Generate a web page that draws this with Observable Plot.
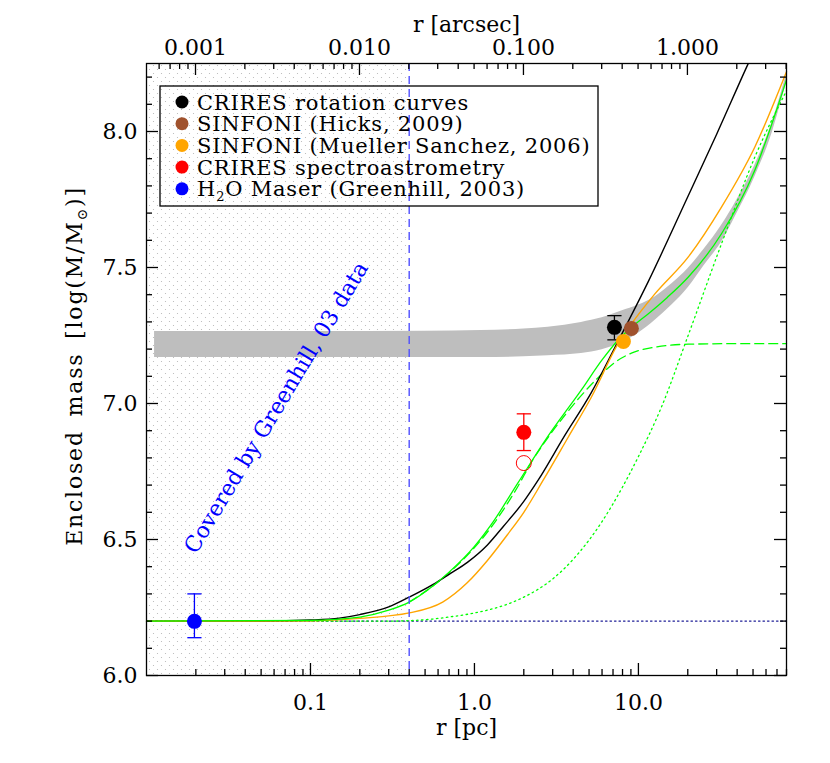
<!DOCTYPE html>
<html><head><meta charset="utf-8">
<script src="https://cdn.jsdelivr.net/npm/d3@7"></script>
<script src="https://cdn.jsdelivr.net/npm/@observablehq/plot@0.6"></script>
<style>body{margin:0;background:#fff}</style>
</head><body><div id="chart"></div>
<script>
// ---------- data ----------
const pcPerArcsec = 19.9;
const xDomain = [0.01, 80];
const yDomain = [6.0, 8.25];
const shadeLimit = 0.4; // pc, Greenhill 03 coverage

const xMajor = [0.1, 1, 10];
const xMajorLabels = ["0.1", "1.0", "10.0"];
const xMinor = [0.02,0.03,0.04,0.05,0.06,0.07,0.08,0.09,0.2,0.3,0.4,0.5,0.6,0.7,0.8,0.9,2,3,4,5,6,7,8,9,20,30,40,50,60,70,80];
const arcMajor = [0.001, 0.01, 0.1, 1];
const arcMajorLabels = ["0.001", "0.010", "0.100", "1.000"];
const arcMinor = [0.0006,0.0007,0.0008,0.0009,0.002,0.003,0.004,0.005,0.006,0.007,0.008,0.009,0.02,0.03,0.04,0.05,0.06,0.07,0.08,0.09,0.2,0.3,0.4,0.5,0.6,0.7,0.8,0.9,2,3,4];
const yMajor = [6.0, 6.5, 7.0, 7.5, 8.0];
const yMajorLabels = ["6.0", "6.5", "7.0", "7.5", "8.0"];
const yMinor = [6.1,6.2,6.3,6.4,6.6,6.7,6.8,6.9,7.1,7.2,7.3,7.4,7.6,7.7,7.8,7.9,8.1,8.2];

// grey band (total enclosed mass range)
const bandR     = [0.0112, 0.1, 0.5, 1.1, 2.0, 2.81, 4.49, 6.0, 7.9, 10, 12.6, 16, 20.1, 25, 32.1, 40, 51.2, 65, 80];
const bandUpper = [7.265, 7.265, 7.266, 7.268, 7.274, 7.28, 7.298, 7.315, 7.34, 7.362, 7.392, 7.44, 7.496, 7.565, 7.654, 7.75, 7.875, 8.03, 8.21];
const bandLower = [7.169, 7.169, 7.169, 7.169, 7.172, 7.176, 7.184, 7.198, 7.222, 7.258, 7.305, 7.362, 7.426, 7.505, 7.593, 7.70, 7.832, 7.99, 8.18];

// model curves
const blackR = [0.01, 0.05, 0.1, 0.15, 0.2, 0.3, 0.4, 0.56, 0.7, 0.91, 1.2, 1.5, 2.0, 2.44, 3.55, 5.16, 7.17, 11.5, 20, 30, 46.2, 52];
const blackM = [6.2, 6.2, 6.204, 6.211, 6.224, 6.252, 6.288, 6.335, 6.372, 6.417, 6.48, 6.548, 6.64, 6.717, 6.882, 7.04, 7.205, 7.449, 7.76, 7.99, 8.243, 8.31];

const orangeR = [0.01, 0.1, 0.2, 0.4, 0.64, 0.9, 1.2, 1.6, 2.0, 2.62, 3.73, 5.16, 7.52, 9.0, 12.6, 20.1, 32.1, 51.2, 80];
const orangeM = [6.2, 6.201, 6.21, 6.23, 6.27, 6.34, 6.423, 6.52, 6.6, 6.717, 6.876, 7.023, 7.22, 7.29, 7.403, 7.538, 7.722, 7.942, 8.22];

const greenR = [0.01, 0.1, 0.2, 0.3, 0.4, 0.56, 0.7, 1.0, 1.3, 1.85, 2.81, 4.49, 6.0, 7.69, 9.5, 11.5, 15, 20.1, 32.1, 51.2, 80];
const greenM = [6.2, 6.203, 6.215, 6.24, 6.27, 6.33, 6.38, 6.475, 6.565, 6.71, 6.88, 7.05, 7.16, 7.24, 7.29, 7.33, 7.39, 7.464, 7.624, 7.857, 8.19];

const greenDashR = [0.4, 0.56, 0.7, 1.0, 1.3, 1.84, 2.23, 2.81, 3.54, 4.49, 5.68, 7.14, 9.06, 12.6, 20.1, 40, 80];
const greenDashM = [6.27, 6.33, 6.378, 6.47, 6.555, 6.695, 6.785, 6.875, 6.955, 7.03, 7.095, 7.15, 7.185, 7.207, 7.218, 7.22, 7.22];

const greenDotR = [0.01, 0.3, 0.5, 0.7, 1.0, 1.5, 2.0, 3.0, 4.0, 5.0, 6.0, 8.0, 10, 13.8, 20.1, 32.1, 51.2, 80];
const greenDotM = [6.2, 6.2, 6.205, 6.215, 6.23, 6.257, 6.288, 6.355, 6.427, 6.498, 6.566, 6.693, 6.805, 6.986, 7.25, 7.587, 7.905, 8.15];

const bhR = [0.01, 80];
const bhM = [6.2, 6.2];

// measurements
const ptLabel = ["CRIRES rotation curves", "SINFONI (Hicks, 2009)", "SINFONI (Mueller Sanchez, 2006)", "CRIRES spectroastrometry", "H2O Maser (Greenhill, 2003)"];
const ptColor = ["#000000", "#a0522d", "#ffa500", "#ff0000", "#0000ff"];
const ptR     = [7.14, 9.06, 8.1, 2.0, 0.0196];
const ptM     = [7.28, 7.276, 7.228, 6.894, 6.199];
const errR    = [7.14, 2.0, 0.0196];
const errLo   = [7.234, 6.827, 6.139];
const errHi   = [7.323, 6.962, 6.30];
const errColor= ["#000000", "#ff0000", "#0000ff"];
const openR = [2.0], openM = [6.781];

const noteText = ["Covered by Greenhill, 03 data"];
const noteR = [0.062], noteM = [6.985];

// ---------- build ----------
const FONT = "DejaVu Serif";
const toPts = (xs, ys) => xs.map((x, i) => ({x, y: ys[i]}));
const band = bandR.map((x, i) => ({x, y1: bandLower[i], y2: bandUpper[i]}));
const pts = ptR.map((x, i) => ({x, y: ptM[i], c: ptColor[i]}));
const errs = errR.map((x, i) => ({x, lo: errLo[i], hi: errHi[i], c: errColor[i]}));
const caps = errs.flatMap(d => [{x: d.x, y: d.lo, c: d.c}, {x: d.x, y: d.hi, c: d.c}]);
const hline = {draw(ctx, size) { const w = Math.sqrt(size); ctx.moveTo(-w, 0); ctx.lineTo(w, 0); }};
const W = 830, H = 763, mL = 146, mR = 44, mT = 63, mB = 88;
const frameW = W - mL - mR, frameH = H - mT - mB;
const majorLen = 12, minorLen = 6;
const note = noteText.map((t, i) => ({t, x: noteR[i], y: noteM[i]}));

const chart = Plot.plot({
  width: W, height: H,
  marginLeft: mL, marginRight: mR, marginTop: mT, marginBottom: mB,
  x: {type: "log", domain: xDomain, axis: null},
  y: {domain: yDomain, axis: null},
  style: {fontFamily: FONT, background: "white", color: "black"},
  marks: [
    Plot.rect([{x1: xDomain[0], x2: shadeLimit, y1: yDomain[0], y2: yDomain[1]}], {x1: "x1", x2: "x2", y1: "y1", y2: "y2", fill: "url(#dots)"}),
    Plot.areaY(band, {x: "x", y1: "y1", y2: "y2", fill: "#bebebe", curve: "monotone-x"}),
    Plot.line(toPts(bhR, bhM), {x: "x", y: "y", stroke: "#1c1c96", strokeWidth: 1.3, strokeDasharray: "1.5,3"}),
    Plot.line(toPts(greenDotR, greenDotM), {x: "x", y: "y", stroke: "#00ff00", strokeWidth: 1.3, strokeDasharray: "1.5,3.5", curve: "monotone-x"}),
    Plot.line(toPts(greenDashR, greenDashM), {x: "x", y: "y", stroke: "#00ff00", strokeWidth: 1.3, strokeDasharray: "9,5", curve: "monotone-x"}),
    Plot.line(toPts(blackR, blackM), {x: "x", y: "y", stroke: "black", strokeWidth: 1.4, curve: "monotone-x", clip: true}),
    Plot.line(toPts(orangeR, orangeM), {x: "x", y: "y", stroke: "#ffa500", strokeWidth: 1.4, curve: "monotone-x"}),
    Plot.line(toPts(greenR, greenM), {x: "x", y: "y", stroke: "#00ff00", strokeWidth: 1.3, curve: "monotone-x"}),
    Plot.ruleX([shadeLimit], {stroke: "#4f4fff", strokeWidth: 1.4, strokeDasharray: "8,5"}),
    Plot.ruleX(errs, {x: "x", y1: "lo", y2: "hi", stroke: "c", strokeWidth: 1.3}),
    Plot.dot(caps, {x: "x", y: "y", stroke: "c", symbol: hline, r: 4, strokeWidth: 1.3}),
    Plot.dot(pts, {x: "x", y: "y", fill: "c", r: 7.5}),
    Plot.dot(toPts(openR, openM), {x: "x", y: "y", stroke: "#ff0000", fill: "none", r: 7.5, strokeWidth: 1}),
    Plot.text(note, {x: "x", y: "y", text: "t", rotate: -59, fill: "#0000ff", fontSize: 22, letterSpacing: 0.8}),
    // frame
    Plot.frame({stroke: "black", strokeWidth: 1.3}),
    // ticks: bottom
    Plot.ruleX(xMajor, {x: d => d, insetTop: frameH - majorLen, stroke: "black", strokeWidth: 1.3}),
    Plot.ruleX(xMinor, {x: d => d, insetTop: frameH - minorLen, stroke: "black", strokeWidth: 1.3}),
    // ticks: top (arcsec)
    Plot.ruleX(arcMajor, {x: d => d * pcPerArcsec, insetBottom: frameH - majorLen, stroke: "black", strokeWidth: 1.3}),
    Plot.ruleX(arcMinor, {x: d => d * pcPerArcsec, insetBottom: frameH - minorLen, stroke: "black", strokeWidth: 1.3}),
    // ticks: left/right
    Plot.ruleY(yMajor, {y: d => d, insetRight: frameW - majorLen, stroke: "black", strokeWidth: 1.3}),
    Plot.ruleY(yMinor, {y: d => d, insetRight: frameW - minorLen, stroke: "black", strokeWidth: 1.3}),
    Plot.ruleY(yMajor, {y: d => d, insetLeft: frameW - majorLen, stroke: "black", strokeWidth: 1.3}),
    Plot.ruleY(yMinor, {y: d => d, insetLeft: frameW - minorLen, stroke: "black", strokeWidth: 1.3}),
    // tick labels
    Plot.text(xMajor, {x: d => d, text: d => xMajorLabels[xMajor.indexOf(d)], frameAnchor: "bottom", lineAnchor: "bottom", dy: 34, fontSize: 22}),
    Plot.text(arcMajor, {x: d => d * pcPerArcsec, text: d => arcMajorLabels[arcMajor.indexOf(d)], frameAnchor: "top", lineAnchor: "bottom", dy: -9, fontSize: 22}),
    Plot.text(yMajor, {y: d => d, text: d => yMajorLabels[yMajor.indexOf(d)], frameAnchor: "left", textAnchor: "end", dx: -9, fontSize: 22}),
    Plot.text(["r [pc]"], {frameAnchor: "bottom", lineAnchor: "bottom", dy: 59, fontSize: 22, text: d => d, letterSpacing: 1.5, wordSpacing: 4}),
    Plot.text(["r [arcsec]"], {frameAnchor: "top", lineAnchor: "bottom", dy: -32, fontSize: 22, text: d => d, letterSpacing: 2, wordSpacing: 5})
  ]
});

const svg = d3.select(chart);
const defs = svg.insert("defs", ":first-child");
const pat = defs.append("pattern").attr("id", "dots").attr("patternUnits", "userSpaceOnUse").attr("width", 8).attr("height", 8);
pat.append("circle").attr("cx", 1.5).attr("cy", 1.5).attr("r", 0.6).attr("fill", "#b4b4b4");
pat.append("circle").attr("cx", 5.5).attr("cy", 5.5).attr("r", 0.6).attr("fill", "#b4b4b4");

// y-axis title with subscript
const yt = svg.append("text").attr("font-family", FONT).attr("font-size", 22).attr("text-anchor", "middle")
  .attr("letter-spacing", 1.8).attr("word-spacing", 5)
  .attr("transform", "translate(82,366) rotate(-90)").attr("fill", "black");
yt.append("tspan").text("Enclosed mass [log(M/M");
yt.append("tspan").attr("font-size", 14).attr("dy", 5).text("\u2299");
yt.append("tspan").attr("dy", -5).text(")]");

// legend
const lg = svg.append("g").attr("font-family", FONT).attr("font-size", 21).attr("text-anchor", "start");
lg.append("rect").attr("x", 160).attr("y", 86).attr("width", 438).attr("height", 120).attr("fill", "none").attr("stroke", "black").attr("stroke-width", 1.3);
ptLabel.forEach((lab, i) => {
  const cy = 102 + i * 21.7;
  lg.append("circle").attr("cx", 182).attr("cy", cy).attr("r", 6.5).attr("fill", ptColor[i]);
  const t = lg.append("text").attr("x", 197).attr("y", cy + 7.5).attr("fill", "black").attr("letter-spacing", 0.8);
  if (lab.startsWith("H2O")) {
    t.append("tspan").text("H");
    t.append("tspan").attr("font-size", 13).attr("dy", 5).text("2");
    t.append("tspan").attr("dy", -5).text("O" + lab.slice(3));
  } else t.text(lab);
});

document.getElementById("chart").appendChild(chart);
</script>
</body></html>
